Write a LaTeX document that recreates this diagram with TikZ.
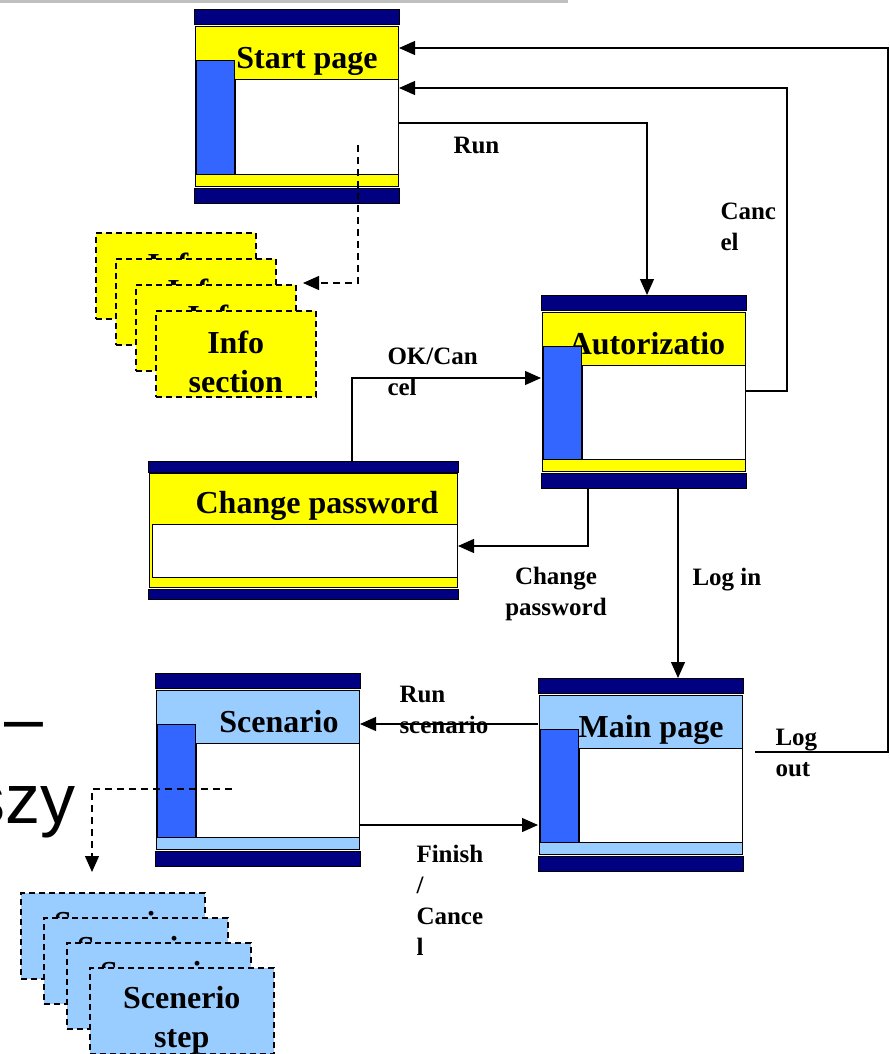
\documentclass[tikz,border=0pt]{standalone}
\usepackage{fontspec}
\setmainfont{Liberation Serif}
\newfontfamily\slidefont{Liberation Sans}
\usetikzlibrary{arrows.meta}

\definecolor{navy}{HTML}{000080}
\definecolor{winyellow}{HTML}{FFFF00}
\definecolor{winblue}{HTML}{99CCFF}
\definecolor{sidebar}{HTML}{3366FF}
\definecolor{slidegray}{HTML}{C0C0C0}

% one application window: name, left, top, colour, title, title centre
\newcommand{\appscreen}[6]{%
  \node[screen] (#1) at (#2,#3) {};
  \filldraw[fill=navy] (#2,#3) rectangle (#2+205,#3+15);
  \filldraw[fill=#4] (#2+1,#3+17) rectangle (#2+204,#3+176);
  \filldraw[fill=white] (#2+41,#3+70) rectangle (#2+204,#3+164);
  \node[wintitle] (#1-title) at (#6,#3+59) {#5};
  \filldraw[fill=sidebar] (#2+2,#3+51) rectangle (#2+40,#3+164);
  \filldraw[fill=navy] (#2,#3+178) rectangle (#2+205,#3+193);
}

\begin{document}
\begin{tikzpicture}[x=1pt, y=-1pt, line width=1pt,
  screen/.style={minimum width=205pt, minimum height=193pt, inner sep=0pt,
    outer sep=0pt, anchor=north west},
  wintitle/.style={font=\bfseries\fontsize{32}{38}\selectfont, anchor=base, inner sep=0pt},
  lbl/.style={font=\bfseries\fontsize{25}{31}\selectfont, align=left,
    anchor=north west, inner sep=0pt},
  flow/.style={line width=1.2pt, -{Triangle[length=16pt,width=14pt]}},
  hint/.style={flow, dash pattern=on 7pt off 5pt},
  card/.style={draw, line width=1.5pt, dash pattern=on 6pt off 4pt,
    minimum height=86pt, anchor=north west, inner sep=0pt},
  cardtxt/.style={align=center, inner sep=0pt,
    font=\bfseries\fontsize{32}{39}\selectfont},
  slide/.style={font=\slidefont\fontsize{70}{80}\selectfont, anchor=base east, inner sep=0pt}]
  \useasboundingbox (0,0) rectangle (890,1054);

  % leftovers of the slide behind
  \draw[slidegray, line width=3pt] (0,1.5) -- (568,1.5);
  \node[slide] (dash) at (44,742) {–};
  \node[slide] (szy) at (76,823) {szy};

  % windows
  \appscreen{start}{194}{10}{winyellow}{Start page}{307}
  \appscreen{auth}{541}{295}{winyellow}{Autorizatio}{647}
  \appscreen{main}{538}{678}{winblue}{Main page}{651}
  \appscreen{scen}{155}{673}{winblue}{Scenario}{279}

  \node[screen, minimum width=310pt, minimum height=138pt] (chpass) at (148,461) {};
  \filldraw[fill=navy] (148,461) rectangle (458,472);
  \filldraw[fill=winyellow] (149,473) rectangle (457,587);
  \filldraw[fill=white] (152,524) rectangle (457,577);
  \node[wintitle] (chpass-title) at (317,513) {Change password};
  \filldraw[fill=navy] (148,589) rectangle (458,599);

  % stacked cards
  \foreach \i in {1,...,4}
    \node[card, fill=winyellow, minimum width=160pt,
      label={[cardtxt, yshift=-8pt]center:{Info\\section}}] (info\i) at (75+20*\i,206+26*\i) {};
  \foreach \i in {1,...,4}
    \node[card, fill=winblue, minimum width=184pt,
      label={[cardtxt, yshift=-10pt]center:{Scenerio\\step}}] (step\i) at (-3+23*\i,867+25*\i) {};

  % labels
  \node[lbl] (runlbl) at (453,137) {Run};
  \node[lbl] (cancellbl) at (720,202) {Canc\\el};
  \node[lbl] (oklbl) at (387,347) {OK/Can\\cel};
  \node[lbl, align=center, anchor=north] (chlbl) at (556,567) {Change\\password};
  \node[lbl] (loginlbl) at (692,568) {Log in};
  \node[lbl] (runsclbl) at (399,686) {Run\\scenario};
  \node[lbl] (logoutlbl) at (775,729) {Log\\out};
  \node[lbl] (finishlbl) at (416,845) {Finish\\/\\Cance\\l};

  % connectors
  \coordinate (logout) at (755,752);
  \draw[flow] (logout) -| (888,48) -- (start.east |- 0,48);
  \draw[flow] (auth.east |- 0,391) -| (787,88) -- (start.east |- 0,88);
  \draw[flow] (start.east |- 0,123) -| (647,0 |- auth.north);
  \draw[flow] (352,0 |- chpass.north) |- (auth.west |- 0,378);
  \draw[flow] (588,0 |- auth.south) |- (chpass.east |- 0,546);
  \draw[flow] (678,0 |- auth.south) -- (678,0 |- main.north);
  \draw[flow] (main.west |- 0,724) -- (scen.east |- 0,724);
  \draw[flow] (scen.east |- 0,825) -- (main.west |- 0,825);
  \coordinate (infofrom) at (358,145);
  \coordinate (infoto) at (303,283);
  \draw[hint] (infofrom) |- (infoto);
  \coordinate (scenfrom) at (232,789);
  \coordinate (scento) at (92,872);
  \draw[hint] (scenfrom) -| (scento);
\end{tikzpicture}
\end{document}
